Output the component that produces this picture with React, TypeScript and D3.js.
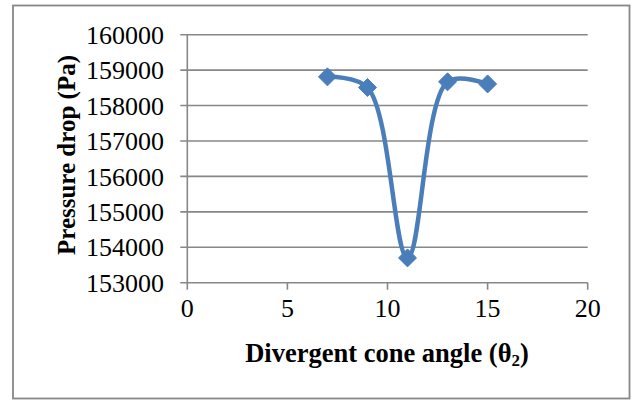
import React from "react";
import * as d3 from "d3";

const angles: number[] = [7, 9, 11, 13, 15];
const pressureDrop: number[] = [158810, 158510, 153700, 158670, 158610];
const xTicks: number[] = [0, 5, 10, 15, 20];
const yTicks: number[] = [153000, 154000, 155000, 156000, 157000, 158000, 159000, 160000];
const xTitle = "Divergent cone angle (θ";
const yTitle = "Pressure drop (Pa)";

export default function App() {
  const W = 632, H = 401;
  const left = 187.3, right = 587.7, top = 34.7, bottom = 282.7;
  const x = d3.scaleLinear().domain([0, 20]).range([left, right]);
  const y = d3.scaleLinear().domain([153000, 160000]).range([bottom, top]);
  const line = d3
    .line<number>()
    .x((_, i) => x(angles[i]))
    .y((d) => y(d))
    .curve(d3.curveCatmullRom.alpha(0.5));
  const path = line(pressureDrop) || "";
  const grid = "#878787";
  const blue = "#4A7EBB";
  const font = "Liberation Serif";
  const m = 9;
  return (
    <svg width={W} height={H} style={{ position: "absolute", left: 0, top: 0 }}>
      <rect x={0} y={0} width={W} height={H} fill="#fff" />
      <rect x={13} y={5.5} width={616.5} height={393} fill="none" stroke={grid} strokeWidth={1.8} />
      {yTicks.map((t) => (
        <line key={"g" + t} x1={left - 7} x2={right} y1={y(t)} y2={y(t)} stroke={grid} strokeWidth={1.6} />
      ))}
      <line x1={left} x2={left} y1={top} y2={bottom} stroke={grid} strokeWidth={1.6} />
      {xTicks.map((t) => (
        <line key={"xt" + t} x1={x(t)} x2={x(t)} y1={bottom} y2={bottom + 7} stroke={grid} strokeWidth={1.6} />
      ))}
      <g style={{ fontFamily: font }}>
        {yTicks.map((t) => (
          <text key={"yl" + t} x={164} y={y(t)} dy="0.35em" textAnchor="end" fontSize={26} fill="#000">
            {t}
          </text>
        ))}
        {xTicks.map((t) => (
          <text key={"xl" + t} x={x(t)} y={bottom + 34} textAnchor="middle" fontSize={26} fill="#000">
            {t}
          </text>
        ))}
        <text x={387} y={362} textAnchor="middle" fontSize={26.5} fontWeight="bold" fill="#000">
          {xTitle}
          <tspan fontSize={17} dy={4}>2</tspan>
          <tspan dy={-4}>)</tspan>
        </text>
        <text
          transform={`translate(75,155) rotate(-90)`}
          textAnchor="middle"
          fontSize={25}
          fontWeight="bold"
          fill="#000"
        >
          {yTitle}
        </text>
      </g>
      <path d={path} fill="none" stroke={blue} strokeWidth={4.5} strokeLinejoin="round" />
      {pressureDrop.map((v, i) => {
        const cx = x(angles[i]);
        const cy = y(v);
        return (
          <path
            key={"m" + i}
            d={`M${cx},${cy - m}L${cx + m},${cy}L${cx},${cy + m}L${cx - m},${cy}Z`}
            fill={blue}
            stroke={blue}
            strokeWidth={1}
          />
        );
      })}
    </svg>
  );
}
